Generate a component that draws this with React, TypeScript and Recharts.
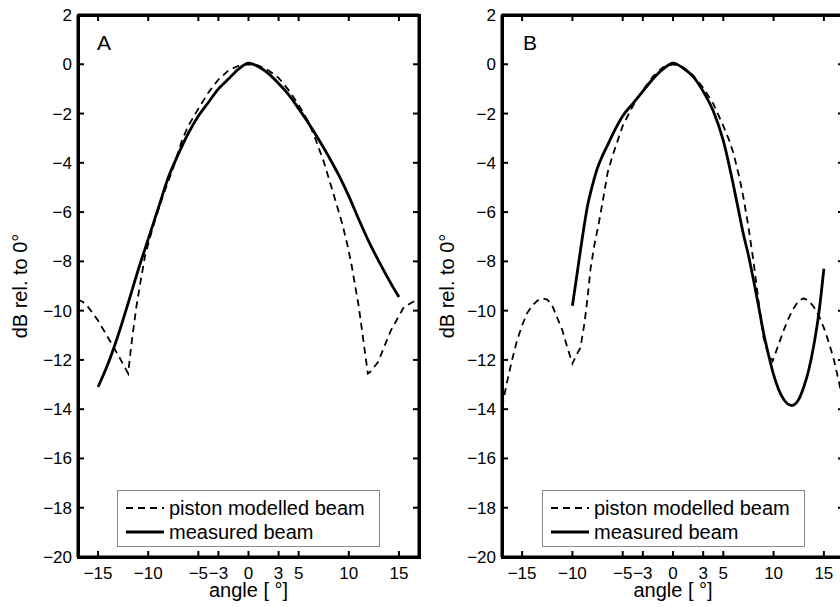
import React from "react";
import { LineChart, Line, XAxis, YAxis } from "recharts";

const FONT = '"Liberation Sans", Arial, Helvetica, sans-serif';

const xTicks = [-15, -10, -5, -3, 0, 3, 5, 10, 15];
const yTicks = [-20, -18, -16, -14, -12, -10, -8, -6, -4, -2, 0, 2];
const xDomain = [-17, 17];
const yDomain = [-20, 2];
const seriesNames = ["piston modelled beam", "measured beam"];

// panel A
const aPistonX = [-17, -16.5, -16, -15, -14, -13, -12, -11.7, -11.2, -10.8, -10.3, -9.8, -9.3, -8.5, -7.5, -6.6, -6, -5, -4, -3, -2, -1, 0, 1, 2, 3, 4, 5, 6, 6.6, 7.5, 8.5, 9.4, 9.9, 10.3, 11, 11.9, 12.1, 12.9, 14.2, 15.5, 16.7, 17];
const aPistonY = [-9.55, -9.65, -9.85, -10.4, -11.1, -11.8, -12.55, -11.45, -9.9, -8.9, -7.75, -7.0, -6.3, -5.3, -4.2, -3.05, -2.5, -1.8, -1.15, -0.62, -0.25, -0.06, 0, -0.05, -0.25, -0.55, -1.05, -1.65, -2.35, -2.95, -3.95, -5.3, -6.55, -7.4, -8.2, -9.85, -12.55, -12.5, -12.1, -10.8, -9.85, -9.58, -9.55];
const aMeasuredX = [-15, -14, -13, -12, -11, -10, -9, -8, -7, -6, -5, -4, -3, -2, -1, 0, 1, 2, 3, 4, 5, 6, 7, 8, 9, 10, 11, 12, 13, 14, 15];
const aMeasuredY = [-13.1, -12.15, -11.0, -9.7, -8.35, -7.1, -5.85, -4.6, -3.65, -2.8, -2.1, -1.55, -1.0, -0.6, -0.2, 0.05, -0.1, -0.38, -0.78, -1.23, -1.8, -2.4, -3.05, -3.75, -4.5, -5.35, -6.3, -7.2, -8.0, -8.75, -9.45];

// panel B
const bPistonX = [-17, -16.5, -16, -15.5, -15, -14.5, -14, -13.5, -13, -12.5, -12, -11.5, -11, -10.5, -10, -9.6, -9.2, -8.8, -8.5, -8.2, -7.8, -7.4, -7, -6.5, -6, -5.5, -5, -4, -3, -2, -1, 0, 1, 2, 3, 4, 5, 5.6, 6, 6.6, 7, 7.5, 8, 8.5, 9, 9.5, 9.9, 10.3, 11, 11.5, 12, 12.5, 13, 13.5, 14, 14.5, 15, 15.5, 16, 16.5, 17];
const bPistonY = [-13.9, -12.9, -12.0, -11.2, -10.6, -10.1, -9.8, -9.6, -9.5, -9.55, -9.8, -10.3, -10.8, -11.5, -12.15, -11.8, -11.5, -10.5, -9.5, -8.3, -7.3, -6.5, -5.6, -4.4, -3.7, -3.1, -2.5, -1.7, -1.05, -0.5, -0.12, 0, -0.12, -0.45, -0.95, -1.6, -2.5, -3.1, -3.6, -4.6, -5.4, -6.6, -8.0, -9.6, -11.1, -11.8, -12.05, -11.6, -10.8, -10.3, -9.9, -9.6, -9.5, -9.6, -9.85, -10.2, -10.7, -11.3, -12.0, -12.9, -13.9];
const bMeasuredX = [-10, -9.5, -9, -8.5, -8, -7.5, -7, -6.5, -6, -5.5, -5, -4, -3, -2, -1, 0, 1, 2, 3, 4, 5, 6, 6.5, 7, 7.5, 8, 8.5, 9, 9.5, 10, 10.5, 11, 11.8, 12.5, 13, 13.5, 14, 14.5, 15];
const bMeasuredY = [-9.8, -8.4, -7.0, -5.75, -4.9, -4.2, -3.7, -3.28, -2.85, -2.45, -2.1, -1.6, -1.1, -0.6, -0.2, 0.05, -0.15, -0.5, -1.1, -1.9, -3.1, -4.9, -5.9, -6.9, -7.75, -8.75, -9.8, -10.9, -11.8, -12.6, -13.2, -13.6, -13.85, -13.6, -13.1, -12.4, -11.4, -10.1, -8.3];

const toPoints = (xs: number[], ys: number[]) => xs.map((x, i) => ({ x, y: ys[i] }));
const fmt = (v: number) => (v < 0 ? "\u2212" + Math.abs(v) : String(v));
const blank = () => "";

const W = 430;
const H = 607;
const TOP = 15;
const XAXIS_H = 50;

const axisLine = { stroke: "#000", strokeWidth: 3 };
const tickLine = { stroke: "#000", strokeWidth: 2 };

// bottom tick: label plus an inward tick mark above it (tickMargin is 10)
function BottomTick(p: any) {
  const x = Number(p.x);
  const y = Number(p.y);
  return (
    <g>
      <line x1={x} x2={x} y1={y - 10} y2={y - 16} stroke="#000" strokeWidth={2} />
      <text x={x} y={y} dy="0.71em" textAnchor="middle" fill="#000" fontSize={17} fontFamily={FONT}>
        {fmt(p.payload.value)}
      </text>
    </g>
  );
}

// left tick: label plus an inward tick mark right of the axis (tickMargin is 6)
function LeftTick(p: any) {
  const x = Number(p.x);
  const y = Number(p.y);
  return (
    <g>
      <line x1={x + 6} x2={x + 12} y1={y} y2={y} stroke="#000" strokeWidth={2} />
      <text x={x} y={y} dy="0.355em" textAnchor="end" fill="#000" fontSize={17} fontFamily={FONT}>
        {fmt(p.payload.value)}
      </text>
    </g>
  );
}

function BeamLegend({ left }: { left: number }) {
  return (
    <div
      style={{
        position: "absolute",
        left,
        top: 490,
        width: 263,
        height: 57,
        boxSizing: "border-box",
        border: "1px solid #888",
        background: "#fff",
        paddingTop: 5,
        fontFamily: FONT,
        fontSize: 20,
        color: "#000",
      }}
    >
      {seriesNames.map((n, i) => (
        <div key={n} style={{ display: "flex", alignItems: "center", height: 24 }}>
          <svg width={38} height={10} style={{ marginLeft: 8, marginRight: 5 }}>
            <line
              x1={0}
              y1={5}
              x2={38}
              y2={5}
              stroke="#000"
              strokeWidth={i === 0 ? 1.8 : 3}
              strokeDasharray={i === 0 ? "7 5" : undefined}
            />
          </svg>
          <span>{n}</span>
        </div>
      ))}
    </div>
  );
}

function Panel(props: {
  tag: string;
  left: number;
  marginLeft: number;
  axisWidth: number;
  marginRight: number;
  legendLeft: number;
  yTitleX: number;
  piston: { x: number; y: number }[];
  measured: { x: number; y: number }[];
}) {
  const { tag, left, marginLeft, axisWidth, marginRight, legendLeft, yTitleX, piston, measured } = props;
  const plotLeft = marginLeft + axisWidth;
  const plotRight = W - marginRight;
  const plotBottom = H - XAXIS_H;
  const text = { position: "absolute" as const, fontFamily: FONT, color: "#000", whiteSpace: "nowrap" as const };
  return (
    <div style={{ position: "absolute", left, top: 0, width: W, height: H }}>
      <LineChart
        width={W}
        height={H}
        margin={{ top: TOP, right: marginRight, bottom: 0, left: marginLeft }}
      >
        <XAxis
          xAxisId="b"
          type="number"
          dataKey="x"
          domain={xDomain}
          ticks={xTicks}
          interval={0}
          allowDataOverflow
          tickSize={0}
          tickMargin={10}
          height={XAXIS_H}
          stroke="#000"
          axisLine={axisLine}
          tickLine={false}
          tick={<BottomTick />}
        />
        <XAxis
          xAxisId="t"
          orientation="top"
          mirror
          type="number"
          dataKey="x"
          domain={xDomain}
          ticks={xTicks}
          interval={0}
          allowDataOverflow
          tickFormatter={blank}
          tickSize={6}
          height={6}
          stroke="#000"
          axisLine={axisLine}
          tickLine={tickLine}
        />
        <YAxis
          yAxisId="l"
          type="number"
          domain={yDomain}
          ticks={yTicks}
          interval={0}
          allowDataOverflow
          tickSize={0}
          tickMargin={6}
          width={axisWidth}
          stroke="#000"
          axisLine={axisLine}
          tickLine={false}
          tick={<LeftTick />}
        />
        <YAxis
          yAxisId="r"
          orientation="right"
          mirror
          type="number"
          domain={yDomain}
          ticks={yTicks}
          interval={0}
          allowDataOverflow
          tickFormatter={blank}
          tickSize={6}
          width={6}
          stroke="#000"
          axisLine={axisLine}
          tickLine={tickLine}
        />
        <Line
          xAxisId="b"
          yAxisId="l"
          data={piston}
          dataKey="y"
          name={seriesNames[0]}
          type="linear"
          stroke="#000"
          strokeWidth={1.8}
          strokeDasharray="7 5"
          dot={false}
          activeDot={false}
          isAnimationActive={false}
        />
        <Line
          xAxisId="b"
          yAxisId="l"
          data={measured}
          dataKey="y"
          name={seriesNames[1]}
          type="monotone"
          stroke="#000"
          strokeWidth={2.8}
          dot={false}
          activeDot={false}
          isAnimationActive={false}
        />
      </LineChart>
      {/* box frame round the plot area */}
      <div
        style={{
          position: "absolute",
          left: plotLeft - 1.5,
          top: TOP - 1.5,
          width: plotRight - plotLeft + 3,
          height: plotBottom - TOP + 3,
          boxSizing: "border-box",
          border: "3px solid #000",
          pointerEvents: "none",
        }}
      />
      <BeamLegend left={legendLeft} />
      <div style={{ ...text, left: tag === "A" ? 97 : 103, top: 32, fontSize: 21, lineHeight: 1 }}>{tag}</div>
      <div
        style={{
          ...text,
          left: (plotLeft + plotRight) / 2 - 100,
          top: 580,
          width: 200,
          textAlign: "center",
          fontSize: 20,
          lineHeight: "20px",
        }}
      >
        angle [ °]
      </div>
      <div
        style={{
          ...text,
          left: yTitleX - 100,
          top: (TOP + plotBottom) / 2 - 10,
          width: 200,
          textAlign: "center",
          fontSize: 20,
          lineHeight: "20px",
          transform: "rotate(-90deg)",
        }}
      >
        dB rel. to 0°
      </div>
    </div>
  );
}

export default function App() {
  return (
    <div
      style={{
        position: "absolute",
        left: 0,
        top: 0,
        width: 840,
        height: 607,
        overflow: "hidden",
        background: "#fff",
      }}
    >
      <Panel
        tag="A"
        left={0}
        marginLeft={8}
        axisWidth={70}
        marginRight={11}
        legendLeft={117}
        yTitleX={20}
        piston={toPoints(aPistonX, aPistonY)}
        measured={toPoints(aMeasuredX, aMeasuredY)}
      />
      <Panel
        tag="B"
        left={420}
        marginLeft={15}
        axisWidth={67}
        marginRight={6}
        legendLeft={122}
        yTitleX={27}
        piston={toPoints(bPistonX, bPistonY)}
        measured={toPoints(bMeasuredX, bMeasuredY)}
      />
    </div>
  );
}
